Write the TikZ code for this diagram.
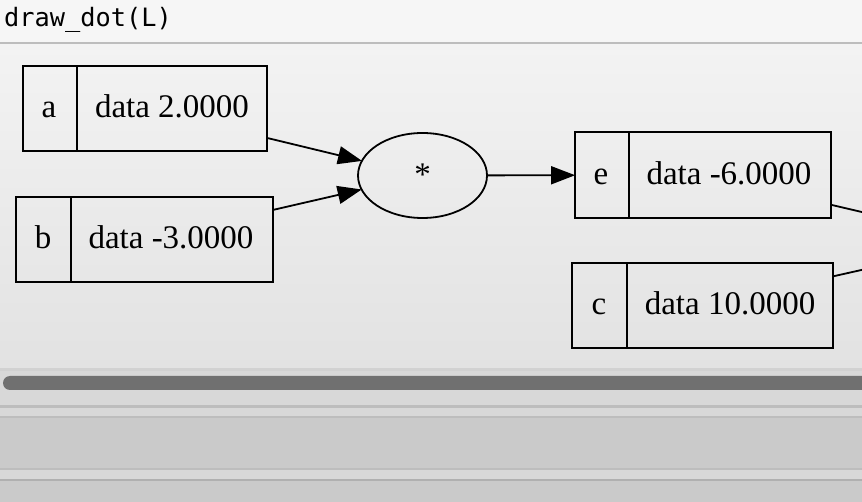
\documentclass[tikz,border=0pt]{standalone}
\usepackage{fontspec}
\setmainfont{Liberation Serif}
\newfontfamily\codefont{DejaVu Sans Mono}
\usetikzlibrary{arrows.meta,shapes.geometric}
\definecolor{topbar}{HTML}{F6F6F6}
\definecolor{areatop}{HTML}{F3F3F3}
\definecolor{areabot}{HTML}{E2E2E2}
\definecolor{lowband}{HTML}{D8D8D8}
\definecolor{lowbox}{HTML}{CACACA}
\definecolor{sepline}{HTML}{BDBDBD}
\definecolor{scroll}{HTML}{707070}
\tikzset{
  box/.style={draw=black, line width=1.8pt, rectangle, inner sep=0pt},
  ell/.style={draw=black, line width=1.8pt, ellipse, inner sep=0pt, minimum width=129pt, minimum height=85pt},
  lbl/.style={font=\fontsize{33}{38}\selectfont, inner sep=0pt, anchor=base},
  edge/.style={draw=black, line width=1.8pt, -{Triangle[length=24pt,width=18pt]}, shorten >=-1pt},
}
\begin{document}
\begin{tikzpicture}[x=1pt,y=-1pt]
\useasboundingbox (0,0) rectangle (862,502);
\clip (0,0) rectangle (862,502);
% background bands
\fill[topbar] (0,0) rectangle (862,43);
\fill[sepline] (0,42.5) rectangle (862,45);
\shade[top color=areatop, bottom color=areabot] (0,45) rectangle (862,369);
\fill[lowband] (0,369) rectangle (862,502);
\fill[sepline!70] (0,368) rectangle (862,371);
\fill[scroll] (3,376) [rounded corners=7pt] rectangle (880,390);
\fill[sepline] (0,405) rectangle (862,408);
\fill[lowbox] (0,417) rectangle (862,468);
\fill[sepline] (0,416) rectangle (862,418);
\fill[sepline] (0,468) rectangle (862,470);
\fill[sepline!120] (0,479) rectangle (862,481);
\fill[lowbox] (0,481) rectangle (862,502);
\node[anchor=base west, inner sep=0pt, font=\codefont\fontsize{25.3}{29}\selectfont] (title) at (4,27) {draw\_dot(L)};
% node a
\node[box, minimum width=244pt, minimum height=85pt] (a) at (145,108.5) {};
\draw[line width=1.8pt] (77,66) -- (77,151);
\node[lbl] (alab) at (49,118) {a};
\node[lbl] (adat) at (172,118) {data 2.0000};
% node b
\node[box, minimum width=257pt, minimum height=85pt] (b) at (144.5,239.5) {};
\draw[line width=1.8pt] (71,197) -- (71,282);
\node[lbl] (blab) at (43,249) {b};
\node[lbl] (bdat) at (171,249) {data -3.0000};
% op node
\node[ell] (mul) at (422.5,175.5) {};
\node[lbl] (mullab) at (422.5,186) {*};
% node e
\node[box, minimum width=256pt, minimum height=86pt] (e) at (703,175) {};
\draw[line width=1.8pt] (629,132) -- (629,218);
\node[lbl] (elab) at (601,185) {e};
\node[lbl] (edat) at (729,185) {data -6.0000};
% node c
\node[box, minimum width=261pt, minimum height=85pt] (c) at (702.5,305.5) {};
\draw[line width=1.8pt] (627,263) -- (627,348);
\node[lbl] (clab) at (599,315) {c};
\node[lbl] (cdat) at (730,315) {data 10.0000};
% off-picture target
\coordinate (plus) at (988,241.6);
% edges
\draw[edge] (a) -- (mul);
\draw[edge] (b) -- (mul);
\draw[edge] (mul) -- (e);
\draw[line width=1.8pt] (e) -- (plus);
\draw[line width=1.8pt] (c) -- (plus);
\end{tikzpicture}
\end{document}
